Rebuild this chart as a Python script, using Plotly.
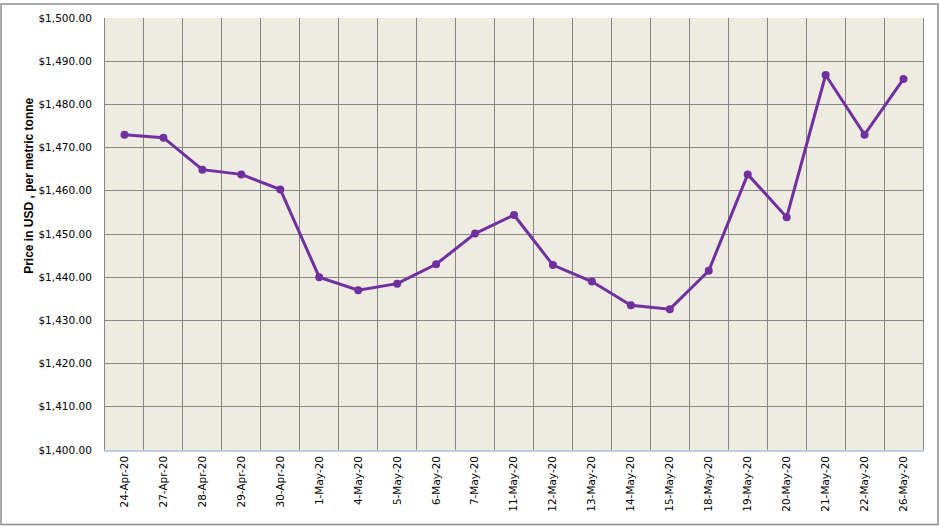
import plotly.graph_objects as go

dates = ["24-Apr-20", "27-Apr-20", "28-Apr-20", "29-Apr-20", "30-Apr-20",
         "1-May-20", "4-May-20", "5-May-20", "6-May-20", "7-May-20",
         "11-May-20", "12-May-20", "13-May-20", "14-May-20", "15-May-20",
         "18-May-20", "19-May-20", "20-May-20", "21-May-20", "22-May-20",
         "26-May-20"]
prices = [1473.0, 1472.3, 1464.9, 1463.8, 1460.3,
          1440.0, 1437.0, 1438.5, 1443.0, 1450.1,
          1454.4, 1442.8, 1439.0, 1433.5, 1432.6,
          1441.5, 1463.8, 1453.9, 1486.8, 1473.0,
          1485.9]

W, H = 939, 527
L, R, T, B = 105, 16, 15, 77
pw, ph = W - L - R, H - T - B

fig = go.Figure()
fig.add_trace(go.Scatter(
    x=dates, y=prices, mode="lines+markers",
    line=dict(color="#7030A0", width=3),
    marker=dict(color="#7030A0", size=8),
    showlegend=False,
))

def px_x(p):
    return (p - L) / pw

def px_y(p):
    return (H - B - p) / ph

fig.update_layout(
    width=W, height=H,
    margin=dict(l=L, r=R, t=T, b=B),
    paper_bgcolor="white",
    plot_bgcolor="#EEEBE0",
    font=dict(family="DejaVu Sans", size=10.5, color="black"),
    xaxis=dict(
        type="category", tickangle=-90, tickson="boundaries",
        showgrid=True, gridcolor="#868686", gridwidth=1,
        showline=True, linecolor="#B9CDE5", linewidth=1.5,
        ticks="", ticklen=0, zeroline=False,
        range=[-0.5, len(dates) - 0.5],
    ),
    yaxis=dict(
        range=[1400, 1500], dtick=10, tickprefix="$", tickformat=",.2f",
        showgrid=True, gridcolor="#868686", gridwidth=1,
        showline=True, linecolor="#868686", linewidth=1, mirror=True,
        ticks="", zeroline=False, ticklabelstandoff=10,
    ),
    shapes=[dict(
        type="rect", xref="paper", yref="paper",
        x0=px_x(1), x1=px_x(938), y0=px_y(525), y1=px_y(1),
        line=dict(color="#8C8C8C", width=1.5), fillcolor="rgba(0,0,0,0)",
        layer="below",
    )],
    annotations=[dict(
        text="<b>Price in USD , per metric tonne</b>",
        xref="paper", yref="paper", x=px_x(29), y=px_y(184),
        xanchor="center", yanchor="middle",
        showarrow=False, textangle=-90,
        font=dict(family="Liberation Sans", size=12, color="black"),
    )],
)

fig.write_html("out.html")
